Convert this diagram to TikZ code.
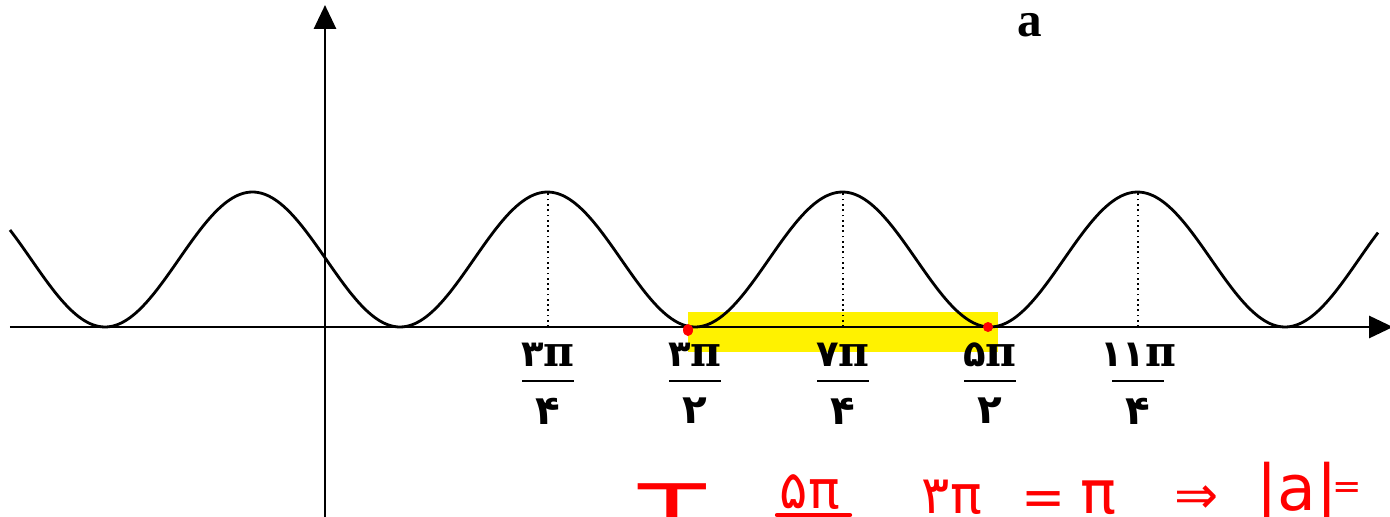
\documentclass[tikz,border=0pt]{standalone}
\usepackage{fontspec}
\newfontfamily\farsi[Script=Arabic]{DejaVu Sans}
\newfontfamily\serifx{Liberation Serif}
\newfontfamily\piserif{DejaVu Serif}
\newfontfamily\inkfont{DejaVu Sans}
\usetikzlibrary{arrows.meta}
\newcommand{\pis}{{\fontsize{12}{14}\selectfont\piserif\bfseries π}}

\begin{document}
\begin{tikzpicture}[x=0.1mm, y=0.1mm,
  axisline/.style={line width=0.85pt, -{Triangle[length=2.4mm, width=2.2mm]}},
  wave/.style={line width=0.8pt},
  guide/.style={densely dotted, line width=0.5pt},
  fracnum/.style={inner sep=0pt, font=\fontsize{10.5}{12}\selectfont},
  fracden/.style={inner sep=0pt, font=\fontsize{11.5}{13}\selectfont},
  fracbar/.style={line width=0.8pt},
  ink/.style={inner sep=0pt, text=red, font=\fontsize{15}{17}\selectfont\inkfont},
  inkbar/.style={draw=red, line width=1.2pt, line cap=round}
]
\useasboundingbox (-325,-189) rectangle (1065,327);
\clip (-325,-189) rectangle (1065,327);

% Highlighted interval
\fill[yellow] (363,15) rectangle (673,-25);

% Axes
\draw[axisline] (-315,0) -- (1068,0);
\draw[axisline] (0,-195) -- (0,322);

% Curve
\draw[wave] plot[domain=-315:1053, samples=241, smooth] (\x,{67.5*(1-cos((\x-75)/295*360))});

% Peaks
\foreach \xp in {223,518,813}
  \draw[guide] (\xp,0) -- (\xp,135);

% End points
\fill[red] (363,-3) ellipse (5 and 6);
\fill[red] (663,0) ellipse (5 and 5);

% Tick labels
\foreach \xp/\num/\den/\k in {223/۳/۴/a, 370/۳/۲/b, 518/۷/۴/c, 665/۵/۲/d, 813/۱۱/۴/e} {
  \node[fracnum] (num\k) at (\xp,-28) {{\farsi\bfseries \num}\pis};
  \draw[fracbar] (\xp-26,-54) -- (\xp+26,-54);
  \node[fracden] (den\k) at (\xp,-84) {\farsi\bfseries \den};
}

\node[font=\fontsize{14}{16}\selectfont\serifx\bfseries, inner sep=0pt] (alabel) at (705,302) {a};

% Handwritten note
\node[ink, font=\fontsize{21}{24}\selectfont\inkfont, anchor=north] (tsym) at (347,-156) {\scalebox{1.5}[1]{T}};
\node[ink] (fivepi) at (485,-165) {\farsi ۵π};
\draw[inkbar] (452,-188) -- (525,-188);
\node[ink] (threepi) at (627,-170) {\farsi ۳π};
\node[ink] (eqa) at (719,-177) {=};
\node[ink, font=\fontsize{17}{20}\selectfont\inkfont] (piv) at (773,-171) {π};
\node[ink] (impl) at (872,-173) {⇒};
\node[ink, font=\fontsize{18}{20}\selectfont\inkfont] (absa) at (972,-167) {|a|};
\node[ink, font=\fontsize{10}{12}\selectfont\inkfont] (eqb) at (1022,-164) {=};
\end{tikzpicture}
\end{document}
